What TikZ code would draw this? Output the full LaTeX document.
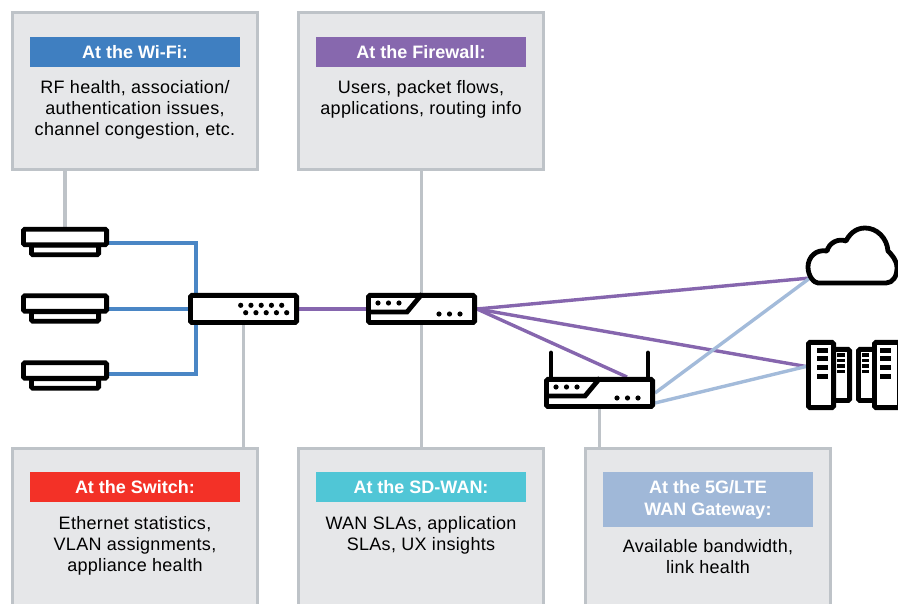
\documentclass[tikz,border=0pt]{standalone}
\usepackage{fontspec}
\setmainfont{Liberation Sans}
\usetikzlibrary{calc,backgrounds}
\definecolor{boxfill}{HTML}{E6E7E9}
\definecolor{boxline}{HTML}{BEC3C8}
\definecolor{hwifi}{HTML}{3F7FC1}
\definecolor{hfw}{HTML}{8768AE}
\definecolor{hsw}{HTML}{F33127}
\definecolor{hsd}{HTML}{50C6D6}
\definecolor{hlte}{HTML}{A0B8D8}
\definecolor{lnblue}{HTML}{4A86C5}
\definecolor{lnpurple}{HTML}{8666AE}
\definecolor{lnsky}{HTML}{A3BBDA}
\tikzset{
  infobox/.style={draw=boxline,fill=boxfill,line width=3pt,minimum width=244.5pt,inner sep=0pt},
  header/.style={text=white,font=\fontsize{18}{20}\selectfont\bfseries,minimum width=210pt,minimum height=30pt,inner sep=0pt,align=center},
  body/.style={text=black,font=\fontsize{18}{21}\selectfont\addfontfeature{LetterSpace=1.7},align=center,inner sep=0pt,anchor=north},
  device/.style={draw=black,fill=white,line width=4.8pt,rounded corners=1.5pt,inner sep=0pt},
  apbody/.style={device,minimum width=83.2pt,minimum height=15.6pt},
  apbase/.style={device,minimum width=67.2pt,minimum height=9.6pt},
  boxunit/.style={device,minimum width=106.2pt,minimum height=27.2pt},
  tallunit/.style={device,minimum width=25.2pt,minimum height=65.2pt},
  smallunit/.style={device,minimum width=17.2pt,minimum height=51.2pt},
  grayline/.style={draw=boxline,line width=3.2pt},
  blueline/.style={draw=lnblue,line width=3.4pt},
  purpleline/.style={draw=lnpurple,line width=3.4pt},
  skyline/.style={draw=lnsky,line width=3.4pt},
  inner/.style={line width=4.8pt,line join=miter},
  dotmark/.style={fill=black,draw=none},
  slot/.style={fill=black,draw=none}
}
\newcommand{\routerdetail}[1]{%
  \begin{scope}[shift={(#1)}]
    \draw[inner] (-54,3) -- (-14.5,3) -- (0.5,-15);
    \foreach \dx in {-43.5,-33,-22.5} \fill[dotmark] (\dx,-6) circle (2.6);
    \foreach \dx in {17.5,28,38.5} \fill[dotmark] (\dx,5) circle (2.6);
  \end{scope}}
\newcommand{\serverslots}[2]{%
  \foreach \dy in {0,1,2,3} \fill[slot] (#1-5.6,#2+\dy*8.8) rectangle ++(11.2,5);}
\newcommand{\smallslots}[2]{%
  \foreach \dy in {0,1,2,3} \fill[slot] (#1-3.8,#2+\dy*5.6) rectangle ++(7.6,3.3);}
\begin{document}
\begin{tikzpicture}[x=1pt,y=-1pt]
\clip (0,0) rectangle (898,604);
% panels
\node[infobox,minimum height=156.5pt] (wifibox) at (135,91) {};
\node[infobox,minimum height=156.5pt] (fwbox) at (421,91) {};
\node[infobox,minimum height=190pt] (swbox) at (135,543) {};
\node[infobox,minimum height=190pt] (sdbox) at (421,543) {};
\node[infobox,minimum height=190pt] (ltebox) at (708,543) {};
% headers
\node[header,fill=hwifi] (wifihead) at (135,52) {At the Wi-Fi:};
\node[header,fill=hfw] (fwhead) at (421,52) {At the Firewall:};
\node[header,fill=hsw] (swhead) at (135,487) {At the Switch:};
\node[header,fill=hsd] (sdhead) at (421,487) {At the SD-WAN:};
\node[header,fill=hlte,minimum height=55pt,font=\fontsize{18}{22}\selectfont\bfseries] (ltehead) at (708,499.5) {At the 5G/LTE\\WAN Gateway:};
% bodies
\node[body] (wifitext) at (135,80.5) {RF health, association/\\authentication issues,\\channel congestion, etc.};
\node[body] (fwtext) at (421,80.5) {Users, packet flows,\\applications, routing info};
\node[body] (swtext) at (135,516.5) {Ethernet statistics,\\VLAN assignments,\\appliance health};
\node[body] (sdtext) at (421,516.5) {WAN SLAs, application\\SLAs, UX insights};
\node[body] (ltetext) at (708,539.5) {Available bandwidth,\\link health};
% access points
\foreach \n/\y in {1/237,2/303.5,3/370.5}{
  \node[apbase] (apb\n) at (65,\y+13) {};
  \node[apbody] (ap\n) at (65,\y) {};
}
\coordinate (apport1) at ([yshift=-6pt]ap1.east);
\coordinate (apport2) at ([yshift=-5.5pt]ap2.east);
\coordinate (apport3) at ([yshift=-3.5pt]ap3.east);
% switch, firewall, router
\node[boxunit] (sw) at (243.5,309) {};
\foreach \k in {0,1,2,3,4}{
  \fill[dotmark] (240.7+\k*10.25,305.3) circle (2.6);
  \fill[dotmark] (245.7+\k*10.25,312.7) circle (2.6);
}
\node[boxunit] (fw) at (421.5,309) {};
\routerdetail{421.5,309}
\node[boxunit] (rt) at (599.5,393) {};
\routerdetail{599.5,393}
\draw[black,line width=4.8pt,line cap=round] (rt.north west)++(7,0) -- ++(0,-24);
\draw[black,line width=4.8pt,line cap=round] (rt.north east)++(-7,0) -- ++(0,-24);
% cloud
\draw[black,fill=white,line width=4.8pt,line join=round]
  (818,283) -- (886,283) .. controls (893,283) and (897,276) .. (897,268)
  .. controls (897,260) and (891,254) .. (888,251)
  .. controls (887,238) and (877,228) .. (865,228)
  .. controls (855,228) and (849,235) .. (846,241)
  .. controls (838,238) and (829,243) .. (827,251)
  .. controls (816,249) and (808,257) .. (808,267)
  .. controls (808,276) and (814,283) .. (818,283) -- cycle;
\coordinate (cloud) at (810,278);
% servers
\node[smallunit] (srv2) at (841,375) {};
\node[tallunit] (srv1) at (821,375) {};
\node[smallunit] (srv3) at (867,375) {};
\node[tallunit] (srv4) at (887,375) {};
\serverslots{822.4}{347.7}
\smallslots{841}{353.3}
\smallslots{865.5}{353.3}
\serverslots{885.5}{347.7}
\coordinate (srvport) at (806,366.5);
% connectors
\begin{pgfonlayer}{background}
\path[grayline] (ap1.north) -- (ap1.north |- wifibox.south);
\path[grayline] (fw.north) -- (fw.north |- fwbox.south);
\path[grayline] (sw.south) -- (sw.south |- swbox.north);
\path[grayline] (fw.south) -- (fw.south |- sdbox.north);
\path[grayline] (rt.south) -- (rt.south |- ltebox.north);
\path[blueline] (apport1) -| ([xshift=-47.5pt]sw.south);
\path[blueline] (apport2) -- (apport2 -| sw.west);
\path[blueline] (apport3) -| ([xshift=-47.5pt]sw.north);
\path[purpleline] (sw.east) -- (fw.west);
\path[purpleline] (fw.east) -- (cloud);
\path[purpleline] (fw.east) -- (srvport);
\path[purpleline] (fw.east) -- ([xshift=27.5pt]rt.north);
\path[skyline] (rt.east) -- (cloud);
\path[skyline] ([yshift=-10pt]rt.east) -- (srvport);
\end{pgfonlayer}
\end{tikzpicture}
\end{document}
